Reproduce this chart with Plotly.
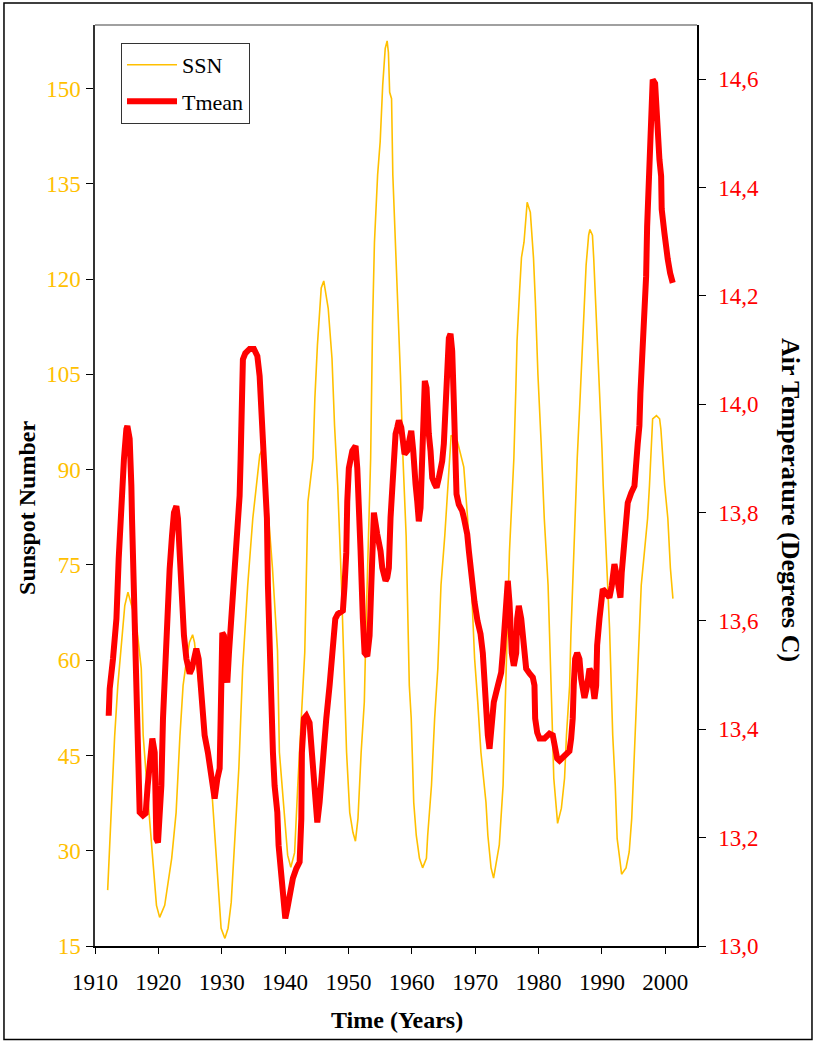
import plotly.graph_objects as go

# ---- Sunspot number (yearly smoothed) ----
ssn_year = [1912.0, 1912.2, 1912.4, 1913.1, 1913.6, 1914.7, 1915.2, 1916.5, 1917.3, 1917.6,
            1918.4, 1919.1, 1919.7, 1920.2, 1921.0, 1922.1, 1922.8, 1923.4, 1923.9, 1924.4,
            1924.9, 1925.4, 1925.7, 1926.2, 1927.0, 1927.8, 1928.4, 1928.9, 1929.7, 1929.9,
            1930.5, 1931.0, 1931.5, 1932.0, 1932.7, 1933.3, 1934.1, 1934.9, 1935.5, 1936.0,
            1936.3, 1937.2, 1938.0, 1938.8, 1939.1, 1939.9, 1940.4, 1940.9, 1941.5, 1942.0,
            1942.6, 1943.1, 1943.6, 1944.4, 1944.7, 1945.1, 1945.7, 1946.1, 1946.8, 1947.2,
            1947.4, 1947.8, 1948.3, 1948.9, 1949.4, 1949.7, 1950.2, 1950.7, 1951.1, 1951.5,
            1952.0, 1952.5, 1952.8, 1953.3, 1953.5, 1953.8, 1954.1, 1954.6, 1955.0, 1955.4,
            1955.8, 1956.1, 1956.3, 1956.5, 1956.8, 1957.0, 1957.3, 1957.5, 1957.8, 1958.2,
            1958.6, 1958.8, 1959.1, 1959.6, 1959.9, 1960.3, 1960.7, 1961.2, 1961.7, 1962.3,
            1962.5, 1963.1, 1963.6, 1964.1, 1964.6, 1965.2, 1965.7, 1966.2, 1966.7, 1967.2,
            1968.2, 1968.8, 1969.4, 1969.9, 1970.4, 1970.9, 1971.7, 1972.0, 1972.5, 1972.9,
            1973.8, 1974.4, 1974.6, 1975.0, 1975.4, 1975.9, 1976.1, 1976.4, 1976.6, 1977.0,
            1977.3, 1977.7, 1977.9, 1978.2, 1978.7, 1978.9, 1979.2, 1979.5, 1979.9, 1980.4,
            1980.7, 1980.9, 1981.5, 1981.7, 1982.1, 1982.4, 1982.7, 1983.0, 1983.6, 1984.1,
            1984.4, 1984.9, 1985.1, 1985.4, 1985.7, 1985.9, 1986.1, 1986.6, 1987.0, 1987.2,
            1987.5, 1987.9, 1988.1, 1988.5, 1988.7, 1988.9, 1989.1, 1989.4, 1989.8, 1990.0,
            1990.2, 1990.4, 1990.9, 1991.2, 1991.7, 1992.1, 1992.4, 1992.8, 1993.1, 1993.8,
            1994.3, 1994.7, 1995.1, 1995.4, 1995.8, 1996.2, 1996.7, 1997.2, 1997.5, 1997.8,
            1998.0, 1998.6, 1999.1, 1999.3, 1999.6, 1999.9, 2000.4, 2000.8, 2001.2]
ssn_value = [23.8, 28.0, 34.0, 48.0, 56.0, 68.6, 70.7, 66.0, 58.7, 48.2,
             37.6, 28.8, 21.4, 19.5, 21.4, 28.8, 36.0, 48.0, 56.0, 59.7,
             62.8, 64.0, 62.8, 58.0, 50.9, 44.5, 40.0, 33.0, 20.3, 17.8,
             16.2, 17.8, 21.9, 30.9, 43.0, 58.7, 71.8, 82.3, 87.5, 92.3,
             93.0, 85.0, 74.6, 61.5, 45.5, 36.0, 29.3, 27.4, 29.7, 40.3,
             51.8, 61.2, 84.9, 91.8, 101.3, 109.6, 118.6, 119.7, 115.4, 110.7,
             107.5, 97.0, 87.5, 71.8, 53.4, 45.5, 36.0, 32.9, 31.5, 35.1,
             45.5, 53.4, 66.6, 87.5, 91.8, 112.8, 125.8, 136.4, 141.6, 150.5,
             156.3, 157.5, 155.7, 149.4, 148.4, 136.4, 128.5, 125.8, 115.4, 104.9,
             91.8, 87.5, 79.6, 56.0, 50.9, 37.6, 32.4, 28.8, 27.3, 28.8,
             32.4, 40.3, 50.9, 58.7, 71.8, 79.6, 87.5, 95.4, 95.0, 94.4,
             90.4, 82.3, 71.8, 60.3, 53.4, 45.5, 37.6, 32.4, 27.3, 25.7,
             30.9, 40.3, 48.2, 64.0, 77.0, 87.5, 91.8, 102.3, 110.2, 118.1,
             123.4, 125.8, 128.5, 132.1, 130.5, 127.3, 123.3, 116.3, 104.9, 94.3,
             87.5, 82.3, 71.8, 64.0, 51.8, 41.4, 37.1, 34.3, 36.7, 41.4,
             48.2, 56.0, 64.0, 71.8, 82.3, 87.5, 91.8, 102.3, 109.7, 115.5,
             122.2, 126.9, 127.8, 126.9, 123.3, 119.0, 113.8, 107.5, 99.6, 93.4,
             87.5, 82.3, 71.8, 65.0, 48.2, 40.3, 31.9, 28.8, 26.3, 27.3,
             29.8, 35.1, 45.5, 51.8, 64.0, 71.8, 77.0, 82.3, 87.5, 95.4,
             98.0, 98.5, 98.0, 96.4, 92.3, 87.5, 82.3, 74.5, 69.7]

# ---- Mean air temperature (deg C) ----
t_year = [1912.16, 1912.32, 1912.84, 1913.38, 1913.74, 1914.05, 1914.26, 1914.57, 1914.95, 1915.11,
          1915.47, 1915.63, 1915.74, 1915.84, 1916.15, 1916.26, 1916.53, 1916.78, 1917.05, 1917.57,
          1918.00, 1918.31, 1918.68, 1919.05, 1919.42, 1919.57, 1919.68, 1919.94, 1920.20, 1920.47,
          1920.73, 1920.99, 1921.26, 1921.78, 1922.15, 1922.46, 1922.84, 1923.09, 1923.36, 1923.63,
          1923.72, 1924.04, 1924.42, 1924.94, 1925.30, 1925.73, 1925.99, 1926.36, 1926.67, 1927.03,
          1927.30, 1927.82, 1928.25, 1928.45, 1928.88, 1929.31, 1929.67, 1929.83, 1929.94, 1930.09,
          1930.35, 1930.62, 1930.88, 1931.14, 1931.51, 1931.77, 1932.03, 1932.46, 1932.82, 1932.98,
          1933.09, 1933.34, 1933.72, 1934.40, 1935.08, 1935.62, 1935.98, 1936.25, 1936.50, 1936.77,
          1937.03, 1937.13, 1937.29, 1937.56, 1937.82, 1938.08, 1938.34, 1938.77, 1938.97, 1939.29,
          1939.65, 1940.03, 1940.35, 1940.71, 1941.23, 1941.77, 1942.29, 1942.56, 1942.65, 1942.97,
          1943.34, 1943.86, 1944.13, 1944.38, 1944.76, 1945.08, 1945.44, 1945.71, 1946.23, 1946.50,
          1947.02, 1947.54, 1947.92, 1948.33, 1949.12, 1949.38, 1949.65, 1949.81, 1950.06, 1950.60,
          1951.12, 1951.39, 1951.64, 1951.91, 1952.27, 1952.54, 1952.97, 1953.33, 1953.60, 1953.85,
          1954.01, 1954.54, 1955.06, 1955.33, 1955.85, 1956.12, 1956.37, 1956.64, 1956.91, 1957.16,
          1957.43, 1957.70, 1957.95, 1958.33, 1958.64, 1958.85, 1959.27, 1959.64, 1959.91, 1960.22,
          1960.32, 1960.58, 1960.85, 1961.10, 1961.37, 1961.64, 1961.80, 1962.05, 1962.32, 1962.43,
          1962.68, 1962.95, 1963.22, 1963.58, 1963.90, 1964.26, 1964.79, 1965.05, 1965.32, 1965.58,
          1965.84, 1966.10, 1966.37, 1966.62, 1966.74, 1966.89, 1967.05, 1967.41, 1967.95, 1968.20,
          1968.74, 1968.99, 1969.42, 1969.89, 1970.36, 1970.84, 1971.20, 1971.47, 1971.74, 1971.99,
          1972.26, 1972.52, 1972.93, 1973.56, 1974.10, 1974.35, 1974.62, 1974.89, 1975.14, 1975.41,
          1975.57, 1975.77, 1976.09, 1976.47, 1976.62, 1976.88, 1977.26, 1977.67, 1978.04, 1978.57,
          1979.09, 1979.35, 1979.46, 1979.78, 1980.14, 1980.93, 1981.72, 1982.24, 1982.51, 1982.93,
          1983.30, 1984.09, 1984.87, 1985.14, 1985.39, 1985.55, 1985.77, 1986.09, 1986.45, 1986.72,
          1986.97, 1987.24, 1987.67, 1988.03, 1988.30, 1988.55, 1988.82, 1989.09, 1989.24, 1989.61,
          1989.87, 1990.13, 1990.66, 1991.18, 1991.55, 1991.97, 1992.24, 1992.60, 1992.92, 1993.12,
          1993.39, 1993.66, 1993.97, 1994.07, 1994.61, 1995.13, 1995.65, 1995.91, 1996.07, 1996.34,
          1996.59, 1996.97, 1997.13, 1997.38, 1997.60, 1997.76, 1998.01, 1998.39, 1998.55, 1998.80,
          1999.07, 1999.34, 1999.43, 1999.86, 2000.02, 2000.38, 2000.76, 2001.17]
t_value = [13.425, 13.475, 13.530, 13.604, 13.715, 13.789, 13.849, 13.899, 13.954, 13.960,
           13.936, 13.899, 13.849, 13.789, 13.665, 13.541, 13.420, 13.328, 13.247, 13.241,
           13.245, 13.296, 13.346, 13.383, 13.357, 13.296, 13.198, 13.191, 13.235, 13.296,
           13.420, 13.493, 13.604, 13.696, 13.757, 13.800, 13.812, 13.789, 13.726, 13.665,
           13.615, 13.573, 13.530, 13.503, 13.512, 13.541, 13.549, 13.530, 13.481, 13.450,
           13.389, 13.357, 13.315, 13.296, 13.272, 13.309, 13.328, 13.420, 13.530, 13.578,
           13.573, 13.505, 13.486, 13.541, 13.604, 13.665, 13.726, 13.789, 13.831, 13.899,
           13.984, 14.083, 14.094, 14.102, 14.102, 14.089, 14.052, 13.991, 13.960, 13.899,
           13.849, 13.789, 13.665, 13.541, 13.450, 13.357, 13.296, 13.247, 13.186, 13.143,
           13.112, 13.051, 13.069, 13.097, 13.125, 13.143, 13.155, 13.235, 13.357, 13.420,
           13.425, 13.412, 13.370, 13.328, 13.265, 13.228, 13.265, 13.309, 13.357, 13.420,
           13.481, 13.573, 13.604, 13.613, 13.619, 13.665, 13.726, 13.821, 13.882, 13.914,
           13.923, 13.882, 13.821, 13.729, 13.604, 13.541, 13.535, 13.573, 13.665, 13.757,
           13.800, 13.760, 13.729, 13.698, 13.674, 13.680, 13.698, 13.791, 13.853, 13.914,
           13.945, 13.957, 13.970, 13.957, 13.927, 13.908, 13.914, 13.945, 13.951, 13.914,
           13.882, 13.853, 13.821, 13.784, 13.809, 13.914, 14.012, 14.043, 14.030, 13.975,
           13.945, 13.914, 13.864, 13.853, 13.846, 13.864, 13.895, 13.927, 14.006, 14.067,
           14.122, 14.130, 14.098, 14.006, 13.945, 13.882, 13.834, 13.815, 13.803, 13.791,
           13.760, 13.730, 13.670, 13.635, 13.600, 13.576, 13.541, 13.481, 13.450, 13.389,
           13.364, 13.407, 13.450, 13.480, 13.505, 13.541, 13.604, 13.665, 13.674, 13.634,
           13.591, 13.541, 13.517, 13.541, 13.604, 13.628, 13.604, 13.560, 13.512, 13.503,
           13.496, 13.481, 13.420, 13.394, 13.383, 13.383, 13.392, 13.389, 13.364, 13.346,
           13.342, 13.351, 13.360, 13.383, 13.420, 13.481, 13.530, 13.541, 13.530, 13.493,
           13.467, 13.458, 13.481, 13.512, 13.505, 13.481, 13.456, 13.481, 13.555, 13.604,
           13.652, 13.659, 13.652, 13.643, 13.665, 13.705, 13.689, 13.652, 13.643, 13.689,
           13.726, 13.757, 13.789, 13.818, 13.836, 13.849, 13.928, 13.960, 14.020, 14.083,
           14.144, 14.236, 14.328, 14.421, 14.513, 14.555, 14.599, 14.592, 14.544, 14.513,
           14.452, 14.421, 14.360, 14.316, 14.298, 14.268, 14.242, 14.224]

x_ticks = [1910, 1920, 1930, 1940, 1950, 1960, 1970, 1980, 1990, 2000]
ssn_ticks = [15, 30, 45, 60, 75, 90, 105, 120, 135, 150]
t_ticks = [13.0, 13.2, 13.4, 13.6, 13.8, 14.0, 14.2, 14.4, 14.6]
t_tick_text = ["13,0", "13,2", "13,4", "13,6", "13,8", "14,0", "14,2", "14,4", "14,6"]

GOLD = "#FFC000"
RED = "#FF0000"
FONT = "Liberation Serif"
TICK_SIZE = 23

fig = go.Figure()
fig.add_trace(go.Scatter(x=ssn_year, y=ssn_value, mode="lines", name="SSN",
                         line=dict(color=GOLD, width=1.6), legendgroup="a", yaxis="y"))
fig.add_trace(go.Scatter(x=t_year, y=t_value, mode="lines", name="Tmean",
                         line=dict(color=RED, width=6), legendgroup="b", yaxis="y2"))

fig.update_layout(
    width=815, height=1042,
    margin=dict(l=95, r=118, t=25, b=96),
    paper_bgcolor="white", plot_bgcolor="white",
    font=dict(family=FONT, size=22, color="black"),
    showlegend=True,
    legend=dict(x=0.0432, y=0.9805, xanchor="left", yanchor="top",
                bordercolor="#333333", borderwidth=1, bgcolor="white",
                font=dict(family=FONT, size=22, color="black"),
                itemwidth=50, traceorder="grouped", tracegroupgap=5),
    xaxis=dict(range=[1910, 2005], tickvals=x_ticks, ticks="outside", ticklen=6,
               tickcolor="black", showline=True, linecolor="black", linewidth=1.5,
               showgrid=False, zeroline=False, ticklabelstandoff=9,
               tickfont=dict(family=FONT, size=TICK_SIZE, color="black")),
    yaxis=dict(range=[15, 160], tickvals=ssn_ticks, ticks="outside", ticklen=7,
               tickcolor="black", showline=True, linecolor="#333333", linewidth=1.5,
               showgrid=False, zeroline=False, ticklabelstandoff=1,
               tickfont=dict(family=FONT, size=TICK_SIZE, color=GOLD)),
    yaxis2=dict(range=[13.0, 14.7], tickvals=t_ticks, ticktext=t_tick_text,
                overlaying="y", side="right", ticks="outside", ticklen=7,
                tickcolor="black", showline=True, linecolor="black", linewidth=1.5,
                showgrid=False, zeroline=False, ticklabelstandoff=8,
                tickfont=dict(family=FONT, size=TICK_SIZE, color=RED)),
)

# top frame line of the plot area and outer border of the chart
fig.add_shape(type="line", xref="paper", yref="paper", x0=0, x1=1, y0=1, y1=1,
              line=dict(color="#808080", width=1.5))
fig.add_shape(type="rect", xref="paper", yref="paper",
              x0=-0.1512, x1=1.191, y0=-0.1015, y1=1.0239,
              line=dict(color="black", width=1.5))

fig.add_annotation(text="<b>Time (Years)</b>", xref="paper", yref="paper",
                   x=0.5017, y=-0.0803, xanchor="center", yanchor="middle", showarrow=False,
                   font=dict(family=FONT, size=24, color="black"))
fig.add_annotation(text="<b>Sunspot Number</b>", xref="paper", yref="paper",
                   x=-0.113, y=0.4756, xanchor="center", yanchor="middle",
                   showarrow=False, textangle=-90,
                   font=dict(family=FONT, size=24, color="black"))
fig.add_annotation(text="<b>Air Temperature (Degrees C)</b>", xref="paper", yref="paper",
                   x=1.1545, y=0.4843, xanchor="center", yanchor="middle",
                   showarrow=False, textangle=90,
                   font=dict(family=FONT, size=26, color="black"))

fig.write_html("out.html")
